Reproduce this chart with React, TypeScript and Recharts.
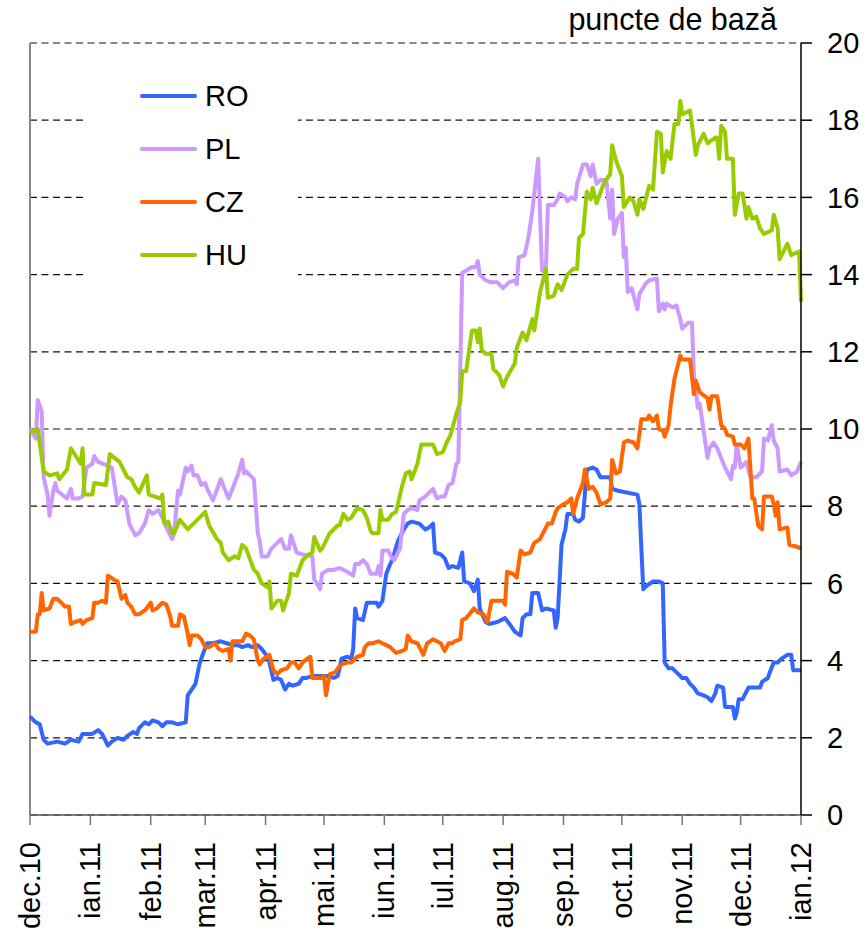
import React from 'react'
import { LineChart, Line, XAxis, YAxis, CartesianGrid, Legend, ReferenceLine } from 'recharts'

// x = days counted from 1 dec 2010, y = basis points
const MONTH_DAYS = [0, 31, 62, 90, 121, 151, 182, 212, 243, 274, 304, 335, 365, 396]
const MONTH_LABELS = ['dec.10', 'ian.11', 'feb.11', 'mar.11', 'apr.11', 'mai.11', 'iun.11', 'iul.11', 'aug.11', 'sep.11', 'oct.11', 'nov.11', 'dec.11', 'ian.12']
const Y_TICKS = [0, 2, 4, 6, 8, 10, 12, 14, 16, 18, 20]

const RO: [number, number][] = [
  [0, 2.55], [3, 2.4], [5, 2.35], [7, 1.95], [9, 1.85], [14, 1.9], [18, 1.85], [21, 1.95], [25, 1.9], [27, 2.1],
  [32, 2.1], [35, 2.2], [37, 2.1], [40, 1.8], [42, 1.9], [45, 2.0], [48, 1.95], [50, 2.05], [53, 2.15], [55, 2.1],
  [56, 2.25], [59, 2.4], [61, 2.35], [63, 2.45], [66, 2.4], [68, 2.3], [70, 2.4], [73, 2.4], [76, 2.35], [80, 2.4],
  [81, 3.1], [83, 3.25], [85, 3.4], [87, 3.9], [89, 4.2], [91, 4.45], [94, 4.45], [98, 4.5], [101, 4.45], [104, 4.4],
  [107, 4.4], [109, 4.35], [112, 4.4], [114, 4.35], [117, 4.4], [119, 4.3], [122, 4.1], [123, 3.95], [125, 3.5], [127, 3.55],
  [129, 3.5], [131, 3.25], [133, 3.4], [135, 3.35], [138, 3.4], [140, 3.55], [142, 3.55], [145, 3.6], [149, 3.6], [153, 3.6],
  [156, 3.55], [158, 3.6], [159, 3.8], [160, 4.05], [163, 4.1], [165, 4.05], [166, 4.3], [167, 5.35], [168, 5.1], [171, 5.05],
  [173, 5.5], [178, 5.5], [179, 5.4], [181, 5.55], [183, 6.25], [185, 6.5], [186, 6.6], [189, 7.1], [192, 7.4], [194, 7.55],
  [196, 7.6], [200, 7.55], [203, 7.4], [205, 7.45], [207, 7.55], [208, 6.8], [211, 6.75], [213, 6.65], [215, 6.4], [217, 6.45],
  [220, 6.4], [222, 6.8], [223, 6.05], [226, 6.0], [228, 5.8], [230, 6.1], [231, 5.35], [234, 5.0], [236, 4.95], [240, 5.0],
  [244, 5.1], [247, 4.9], [249, 4.75], [252, 4.65], [253, 5.1], [255, 5.2], [257, 5.2], [258, 5.75], [261, 5.75], [263, 5.3],
  [265, 5.35], [269, 5.3], [270, 4.85], [271, 5.1], [273, 7.0], [275, 7.4], [276, 7.8], [279, 7.8], [280, 7.65], [282, 7.6],
  [284, 7.7], [286, 8.95], [289, 9.0], [291, 8.95], [293, 8.75], [298, 8.75], [299, 8.45], [302, 8.4], [307, 8.35], [312, 8.3],
  [313, 8.05], [314, 6.9], [315, 5.85], [317, 5.95], [320, 6.05], [323, 6.05], [325, 6.0], [326, 3.95], [328, 3.8], [330, 3.8],
  [333, 3.65], [335, 3.55], [337, 3.55], [339, 3.4], [341, 3.3], [343, 3.15], [346, 3.1], [348, 3.05], [350, 2.95], [352, 3.15],
  [353, 3.35], [356, 3.3], [357, 2.8], [361, 2.8], [362, 2.5], [363, 2.65], [364, 3.0], [366, 3.0], [369, 3.3], [371, 3.3],
  [375, 3.3], [376, 3.45], [379, 3.55], [380, 3.7], [382, 3.95], [384, 3.95], [386, 4.05], [389, 4.15], [391, 4.15], [392, 3.75],
  [396, 3.75],
]

const PL: [number, number][] = [
  [0, 10.0], [3, 9.75], [4, 10.75], [6, 10.45], [7, 8.75], [9, 8.3], [10, 7.75], [12, 8.4], [13, 8.6], [14, 8.4],
  [19, 8.2], [21, 8.45], [22, 8.2], [25, 8.2], [27, 8.25], [29, 9.0], [32, 9.1], [33, 9.3], [35, 9.15], [40, 9.05],
  [42, 9.0], [45, 8.05], [47, 8.25], [49, 8.15], [51, 7.55], [54, 7.25], [56, 7.3], [59, 7.55], [61, 7.9], [63, 7.8],
  [66, 7.9], [68, 7.7], [70, 7.45], [73, 7.15], [74, 7.3], [76, 8.4], [77, 8.3], [80, 9.0], [81, 8.9], [83, 9.05],
  [84, 8.8], [86, 8.8], [88, 8.55], [90, 8.6], [91, 8.45], [94, 8.15], [98, 8.7], [102, 8.2], [104, 8.45], [107, 8.85],
  [109, 9.2], [110, 8.85], [111, 8.9], [115, 8.7], [117, 7.3], [118, 7.1], [119, 6.7], [122, 6.7], [124, 6.9], [127, 7.05],
  [129, 7.15], [131, 6.9], [133, 6.9], [134, 7.25], [137, 6.8], [140, 6.75], [145, 6.7], [146, 6.1], [149, 5.85], [150, 6.25],
  [153, 6.35], [156, 6.35], [159, 6.4], [163, 6.3], [166, 6.2], [167, 6.5], [169, 6.5], [171, 6.6], [173, 6.5], [175, 6.25],
  [178, 6.25], [179, 6.45], [180, 6.2], [181, 6.85], [184, 6.85], [186, 6.65], [187, 6.6], [190, 6.9], [192, 7.8], [194, 7.9],
  [196, 7.95], [199, 7.9], [200, 8.15], [203, 8.25], [205, 8.35], [207, 8.45], [209, 8.2], [211, 8.25], [213, 8.25], [215, 8.55],
  [217, 8.6], [219, 9.1], [220, 9.15], [222, 14.05], [224, 14.1], [227, 14.2], [229, 14.2], [230, 14.35], [231, 14.0], [234, 13.85],
  [237, 13.8], [240, 13.8], [243, 13.65], [244, 13.7], [246, 13.8], [249, 13.85], [250, 13.75], [251, 14.45], [254, 14.5], [256, 14.95],
  [258, 15.65], [260, 16.55], [261, 17.0], [263, 14.1], [265, 14.15], [266, 15.8], [269, 15.8], [271, 15.95], [272, 16.1], [275, 16.0],
  [276, 15.9], [278, 16.0], [280, 15.95], [281, 16.35], [284, 16.85], [286, 16.85], [288, 16.55], [289, 16.85], [291, 16.35], [293, 16.45],
  [296, 16.45], [298, 15.45], [299, 16.2], [300, 15.05], [302, 15.45], [304, 15.6], [305, 14.45], [306, 14.7], [307, 13.55], [309, 13.65],
  [312, 13.1], [313, 13.5], [316, 13.75], [318, 13.85], [322, 13.9], [323, 13.05], [325, 13.25], [326, 13.1], [327, 13.25], [330, 13.15],
  [332, 13.2], [334, 12.85], [335, 12.6], [338, 12.75], [340, 12.75], [341, 11.4], [343, 10.55], [344, 10.65], [346, 9.95], [348, 9.25],
  [349, 9.5], [351, 9.65], [353, 9.5], [355, 9.25], [357, 9.0], [360, 8.7], [361, 9.05], [362, 9.0], [363, 9.6], [365, 9.0],
  [368, 9.15], [370, 8.75], [373, 8.75], [376, 8.9], [377, 9.75], [379, 9.7], [381, 10.1], [382, 9.7], [384, 9.5], [385, 8.9],
  [389, 8.95], [391, 8.8], [394, 8.9], [396, 9.15],
]

const CZ: [number, number][] = [
  [0, 4.75], [3, 4.75], [4, 5.2], [5, 5.2], [6, 5.75], [7, 5.3], [10, 5.35], [12, 5.6], [14, 5.6], [16, 5.5],
  [18, 5.4], [20, 5.4], [21, 4.95], [23, 5.0], [26, 5.05], [27, 4.95], [29, 5.05], [32, 5.1], [33, 5.5], [35, 5.5],
  [37, 5.55], [39, 5.5], [40, 6.2], [43, 6.1], [45, 6.05], [47, 5.6], [49, 5.7], [50, 5.5], [52, 5.4], [54, 5.2],
  [56, 5.2], [59, 5.3], [62, 5.5], [63, 5.3], [65, 5.35], [68, 5.5], [70, 5.45], [72, 5.15], [73, 4.9], [76, 4.9],
  [77, 5.2], [79, 5.15], [81, 4.7], [82, 4.4], [83, 4.65], [86, 4.65], [88, 4.55], [90, 4.35], [92, 4.35], [95, 4.45],
  [97, 4.3], [99, 4.25], [102, 4.3], [103, 4.0], [104, 4.5], [108, 4.5], [109, 4.5], [111, 4.7], [113, 4.65], [115, 4.55],
  [117, 4.0], [118, 3.9], [120, 4.05], [123, 4.15], [125, 3.75], [127, 3.65], [129, 3.75], [132, 3.8], [134, 3.95], [136, 3.95],
  [138, 3.8], [140, 3.95], [141, 4.0], [144, 4.1], [145, 3.55], [147, 3.55], [150, 3.55], [151, 3.6], [152, 3.1], [154, 3.65],
  [157, 3.7], [158, 3.8], [160, 3.9], [163, 3.95], [165, 3.95], [168, 4.1], [171, 4.15], [172, 4.35], [174, 4.45], [176, 4.45],
  [179, 4.5], [181, 4.45], [183, 4.4], [185, 4.35], [188, 4.2], [191, 4.25], [193, 4.3], [194, 4.65], [196, 4.5], [199, 4.45],
  [200, 4.35], [202, 4.15], [204, 4.45], [207, 4.55], [211, 4.45], [213, 4.25], [215, 4.45], [217, 4.45], [218, 4.5], [221, 4.55],
  [222, 5.05], [224, 5.1], [228, 5.35], [230, 5.25], [233, 5.2], [235, 5.0], [237, 5.55], [243, 5.55], [244, 5.45], [245, 6.3],
  [248, 6.25], [250, 6.15], [252, 6.85], [254, 6.75], [257, 6.8], [259, 7.05], [262, 7.15], [263, 7.25], [266, 7.55], [268, 7.55],
  [270, 7.85], [271, 7.95], [274, 8.05], [276, 8.1], [278, 8.2], [279, 7.8], [281, 8.2], [284, 8.6], [285, 8.95], [287, 8.45],
  [289, 8.5], [291, 8.35], [293, 8.05], [296, 8.1], [298, 8.2], [299, 9.2], [301, 8.85], [303, 8.9], [305, 9.65], [307, 9.7],
  [310, 9.65], [312, 9.5], [314, 10.25], [317, 10.25], [318, 10.35], [320, 10.2], [322, 10.35], [323, 10.0], [325, 9.95], [326, 9.8],
  [328, 10.1], [329, 10.6], [331, 11.3], [334, 11.9], [335, 11.8], [339, 11.8], [341, 10.9], [342, 11.25], [344, 10.95], [348, 10.8],
  [349, 10.5], [350, 10.85], [353, 10.85], [355, 10.1], [357, 10.0], [358, 9.85], [361, 9.8], [362, 9.6], [365, 9.6], [367, 9.5],
  [369, 9.75], [371, 8.2], [372, 8.2], [374, 7.5], [376, 7.4], [377, 8.25], [381, 8.25], [382, 8.05], [383, 7.75], [384, 8.1],
  [385, 7.4], [389, 7.45], [390, 7.0], [394, 6.95], [396, 6.9],
]

const HU: [number, number][] = [
  [0, 9.9], [4, 10.0], [7, 8.9], [10, 8.8], [14, 8.85], [15, 8.7], [19, 8.95], [21, 9.5], [26, 9.1], [27, 9.5],
  [28, 8.3], [32, 8.3], [33, 8.6], [39, 8.55], [41, 9.35], [46, 9.15], [50, 8.75], [52, 8.7], [54, 8.5], [56, 8.35],
  [60, 8.8], [61, 8.3], [67, 8.2], [68, 8.3], [69, 7.55], [71, 7.6], [73, 7.3], [74, 7.3], [77, 7.65], [81, 7.4],
  [84, 7.55], [88, 7.75], [90, 7.85], [92, 7.5], [96, 7.15], [98, 7.05], [99, 6.8], [102, 6.6], [105, 6.7], [107, 6.65],
  [109, 7.0], [111, 6.9], [115, 6.35], [117, 6.25], [119, 6.0], [122, 5.9], [123, 6.05], [124, 5.35], [127, 5.55], [129, 5.55],
  [130, 5.3], [133, 5.75], [134, 6.25], [137, 6.2], [140, 6.6], [143, 6.75], [145, 6.8], [146, 7.2], [149, 6.85], [150, 6.9],
  [154, 7.3], [158, 7.5], [159, 7.5], [161, 7.8], [163, 7.65], [165, 7.7], [168, 7.95], [171, 7.9], [173, 7.7], [175, 7.35],
  [176, 7.3], [179, 7.3], [180, 7.9], [181, 7.65], [184, 7.65], [186, 7.8], [188, 7.85], [191, 8.5], [193, 8.85], [195, 8.9],
  [196, 8.7], [199, 9.1], [201, 9.6], [207, 9.6], [209, 9.35], [212, 9.4], [214, 9.65], [216, 9.85], [219, 10.4], [221, 10.7],
  [222, 11.5], [224, 11.5], [227, 12.55], [229, 12.55], [230, 12.25], [231, 12.6], [232, 12.05], [234, 11.95], [237, 11.95], [238, 11.55],
  [241, 11.4], [243, 11.1], [245, 11.35], [249, 11.7], [250, 12.1], [253, 12.5], [255, 12.3], [258, 12.85], [259, 12.55], [262, 13.55],
  [265, 14.15], [266, 13.4], [269, 13.45], [271, 13.75], [273, 13.6], [276, 14.0], [279, 14.15], [281, 14.15], [282, 14.95], [284, 15.05],
  [286, 16.15], [288, 15.95], [289, 16.25], [291, 15.85], [295, 16.4], [298, 16.6], [299, 17.35], [301, 16.95], [304, 16.55], [305, 15.75],
  [308, 16.0], [310, 15.9], [312, 15.55], [313, 15.95], [315, 15.7], [318, 16.3], [320, 16.2], [322, 17.7], [324, 17.65], [325, 16.65],
  [327, 17.2], [329, 17.0], [331, 17.9], [333, 17.9], [334, 18.5], [335, 18.15], [339, 18.25], [342, 17.1], [343, 17.35], [346, 17.65],
  [348, 17.4], [352, 17.55], [353, 17.55], [354, 17.0], [355, 17.85], [357, 17.7], [358, 17.0], [361, 17.0], [362, 15.55], [364, 16.1],
  [366, 16.1], [368, 15.45], [369, 15.75], [371, 15.45], [373, 15.5], [375, 15.2], [377, 15.05], [379, 15.1], [381, 15.15], [382, 15.55],
  [384, 15.2], [385, 14.4], [389, 14.8], [391, 14.5], [395, 14.6], [396, 13.3],
]

const SERIES = [
  { name: 'RO', color: '#3366FF', pts: RO },
  { name: 'PL', color: '#CC99FF', pts: PL },
  { name: 'CZ', color: '#FF6600', pts: CZ },
  { name: 'HU', color: '#99CC00', pts: HU },
]
const ORDER = SERIES.map((s) => s.name)

const FONT = '"Liberation Sans", Arial, sans-serif'

const MonthTick = (props: any) => {
  const { x, y, payload } = props
  const label = MONTH_LABELS[MONTH_DAYS.indexOf(payload.value)]
  return (
    <text
      transform={`translate(${x + 10},${y + 14}) rotate(-90)`}
      textAnchor="end"
      fontSize={29}
      fontFamily={FONT}
      fill="#000"
    >
      {label}
    </text>
  )
}

const UnitLabel = (props: any) => {
  const vb = props.viewBox || { x: 801, y: 43 }
  return (
    <text x={vb.x - 24} y={vb.y - 13} textAnchor="end" fontSize={30.5} fontFamily={FONT} fill="#000">
      puncte de bază
    </text>
  )
}

// keep legend rows in the order the series are listed
const renderLegend = (props: any) => {
  const items = [...(props.payload || [])].sort((a: any, b: any) => ORDER.indexOf(a.value) - ORDER.indexOf(b.value))
  return (
    <div style={{ background: '#fff', width: 214, height: 226, paddingTop: 7, boxSizing: 'border-box' }}>
      {items.map((p: any) => (
        <div key={p.value} style={{ display: 'flex', alignItems: 'center', height: 53 }}>
          <span style={{ display: 'inline-block', width: 57, height: 4, marginLeft: 56, background: p.color, borderRadius: 2 }} />
          <span style={{ marginLeft: 8, fontSize: 29, fontFamily: FONT, color: '#000', lineHeight: '32px' }}>{p.value}</span>
        </div>
      ))}
    </div>
  )
}

export default function App() {
  return (
    <div style={{ position: 'absolute', left: 0, top: 0, background: '#fff' }}>
      <LineChart width={867} height={934} margin={{ top: 43, right: 0, bottom: 0, left: 30 }} style={{ fontFamily: FONT }}>
        <CartesianGrid vertical={false} stroke="#111" strokeWidth={1.2} strokeDasharray="7 4.5" />
        <XAxis
          type="number"
          dataKey="d"
          domain={[0, 396]}
          ticks={MONTH_DAYS}
          interval={0}
          height={119}
          axisLine={{ stroke: '#555', strokeWidth: 1.5 }}
          tickLine={{ stroke: '#777', strokeWidth: 1.5 }}
          tickSize={10}
          tickMargin={3}
          tick={<MonthTick />}
        />
        <YAxis
          orientation="right"
          domain={[0, 20]}
          ticks={Y_TICKS}
          interval={0}
          width={66}
          axisLine={{ stroke: '#000', strokeWidth: 1.5 }}
          tickLine={{ stroke: '#000', strokeWidth: 1.5 }}
          tickSize={11}
          tickMargin={15}
          tick={{ fontSize: 29, fill: '#000', fontFamily: FONT }}
          label={<UnitLabel />}
        />
        <ReferenceLine x={0} stroke="#888" strokeWidth={2} />
        {SERIES.map((s) => (
          <Line
            key={s.name}
            name={s.name}
            data={s.pts.map(([d, v]) => ({ d, v }))}
            dataKey="v"
            type="linear"
            stroke={s.color}
            strokeWidth={4}
            strokeLinejoin="round"
            dot={false}
            activeDot={false}
            isAnimationActive={false}
          />
        ))}
        <Legend
          layout="horizontal"
          align="center"
          verticalAlign="middle"
          content={renderLegend}
          wrapperStyle={{ left: 84, top: 62, width: 214, height: 226 }}
        />
      </LineChart>
    </div>
  )
}
